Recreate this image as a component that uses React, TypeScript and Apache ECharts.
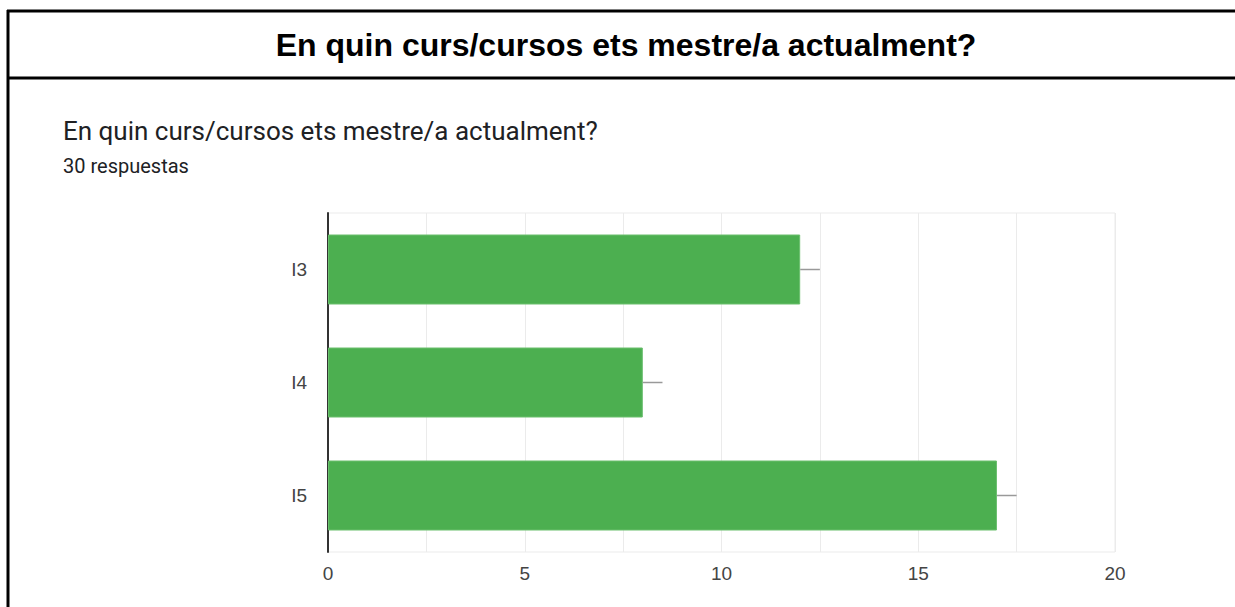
import React, { useEffect, useRef } from "react";
import * as echarts from "echarts";

const pageTitle = "En quin curs/cursos ets mestre/a actualment?";
const question = "En quin curs/cursos ets mestre/a actualment?";
const responses = "30 respuestas";
const categories = ["I3", "I4", "I5"];
const counts = [12, 8, 17];
const whiskerEnds = [12.5, 8.5, 17.5];
const xTicks = [0, 5, 10, 15, 20];

export default function App() {
  const ref = useRef<HTMLDivElement>(null);
  useEffect(() => {
    if (!ref.current) return;
    const chart = echarts.init(ref.current, undefined, { renderer: "svg" });
    const whiskerData = categories.map((_, i) => [counts[i], i, whiskerEnds[i]]);
    chart.setOption({
      animation: false,
      backgroundColor: "#ffffff",
      grid: {
        left: 328,
        right: 120,
        top: 213,
        bottom: 55,
        show: true,
        borderColor: "#ebebeb",
        borderWidth: 1,
        containLabel: false,
      },
      xAxis: {
        type: "value",
        min: 0,
        max: 20,
        interval: 2.5,
        axisLine: { show: false },
        axisTick: { show: false },
        splitLine: { show: true, lineStyle: { color: "#ebebeb", width: 1 } },
        axisLabel: {
          margin: 12,
          fontSize: 19,
          color: "#444444",
          fontFamily: "Liberation Sans, Arial, sans-serif",
          formatter: (v: number) => (xTicks.includes(v) ? String(v) : ""),
        },
      },
      yAxis: {
        type: "category",
        data: categories,
        inverse: true,
        axisLine: { show: true, lineStyle: { color: "#333333", width: 2 } },
        axisTick: { show: false },
        splitLine: { show: false },
        axisLabel: {
          margin: 21,
          fontSize: 19,
          color: "#444444",
          fontFamily: "Liberation Sans, Arial, sans-serif",
        },
      },
      series: [
        {
          type: "bar",
          data: counts,
          barWidth: 70,
          itemStyle: { color: "#4caf50", borderColor: "#6abf6d", borderWidth: 1 },
          z: 2,
        },
        {
          type: "custom",
          data: whiskerData,
          z: 3,
          renderItem: (params: any, api: any) => {
            const start = api.coord([api.value(0), api.value(1)]);
            const end = api.coord([api.value(2), api.value(1)]);
            return {
              type: "line",
              shape: { x1: start[0], y1: start[1], x2: end[0], y2: end[1] },
              style: { stroke: "#999999", lineWidth: 1.5 },
            };
          },
        },
      ],
      graphic: [
        { type: "line", shape: { x1: 7, y1: 11, x2: 1240, y2: 11 }, style: { stroke: "#000", lineWidth: 3 } },
        { type: "line", shape: { x1: 8, y1: 10, x2: 8, y2: 610 }, style: { stroke: "#000", lineWidth: 3 } },
        { type: "line", shape: { x1: 7, y1: 78, x2: 1240, y2: 78 }, style: { stroke: "#000", lineWidth: 3 } },
        {
          type: "text",
          x: 626,
          y: 45,
          style: {
            text: pageTitle,
            fill: "#000",
            font: "bold 32px 'Liberation Sans', Arial, sans-serif",
            align: "center",
            verticalAlign: "middle",
          },
        },
        {
          type: "text",
          x: 63,
          y: 131,
          style: {
            text: question,
            fill: "#202124",
            font: "26px Roboto, 'Noto Sans', sans-serif",
            align: "left",
            verticalAlign: "middle",
          },
        },
        {
          type: "text",
          x: 63,
          y: 166,
          style: {
            text: responses,
            fill: "#202124",
            font: "20px Roboto, 'Noto Sans', sans-serif",
            align: "left",
            verticalAlign: "middle",
          },
        },
      ],
    });
    return () => chart.dispose();
  }, []);
  return (
    <div
      ref={ref}
      style={{ position: "fixed", left: 0, top: 0, width: 1235, height: 607 }}
    />
  );
}
